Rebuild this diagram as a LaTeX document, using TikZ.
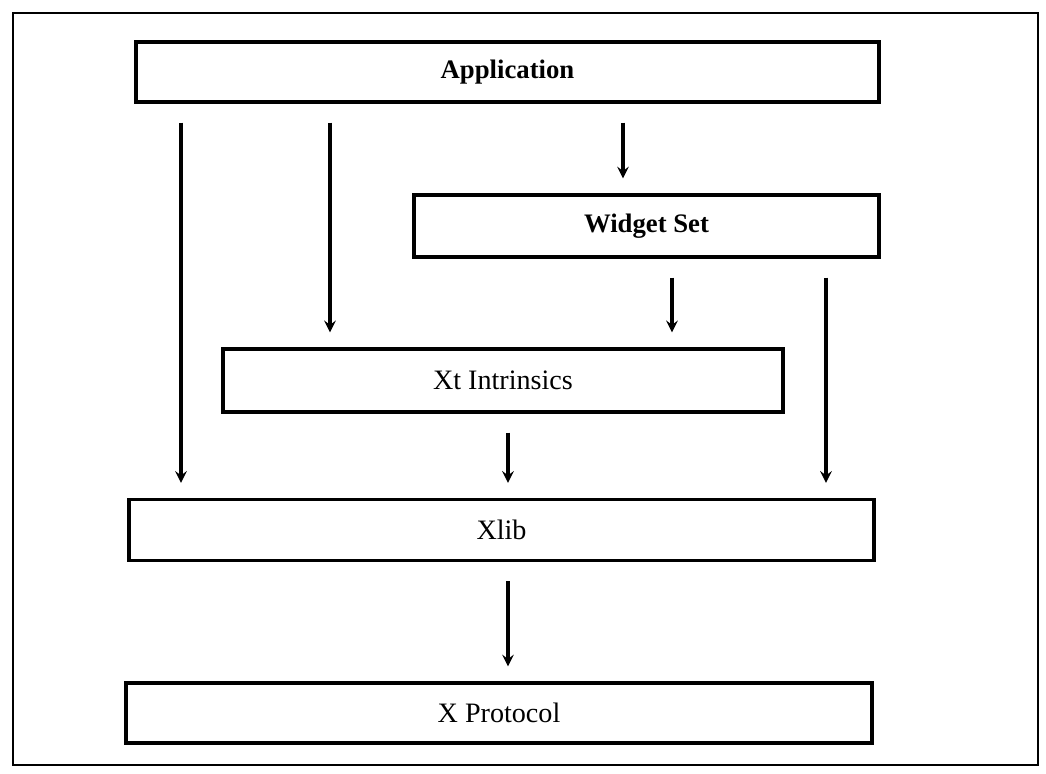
\documentclass[tikz,border=0pt]{standalone}
\usepackage{fontspec}
\setmainfont{Liberation Serif}
\tikzset{
  layer/.style={draw,line width=2.5pt,inner sep=0pt,font=\fontsize{20}{24}\selectfont},
  flow/.style={line width=2.6pt,-stealth,shorten <=0.47cm,shorten >=0.37cm},
}
\begin{document}
\begin{tikzpicture}[x=0.025cm,y=-0.025cm]
        \useasboundingbox (0,0) rectangle (1046,774);
        \draw[line width=2pt] (13,13) rectangle (1038,765);
        % the layers
        \node[layer,minimum width=18.58cm,minimum height=1.5cm] (app) at (507.5,72) {\bfseries\fontsize{19}{22}\selectfont Application};
        \node[layer,minimum width=11.63cm,minimum height=1.55cm] (wset) at (646.5,226) {\bfseries\fontsize{19}{22}\selectfont Widget Set};
        \node[layer,minimum width=14cm,minimum height=1.58cm] (xt) at (503,380.5) {Xt Intrinsics};
        \node[layer,minimum width=18.63cm,minimum height=1.53cm] (xlib) at (501.5,530) {Xlib};
        \node[layer,minimum width=18.65cm,minimum height=1.5cm] (xproto) at (499,713) {X Protocol};
        % columns of the arrows
        \coordinate (c1) at (181,0);
        \coordinate (c2) at (330,0);
        \coordinate (c3) at (623,0);
        \coordinate (c4) at (672,0);
        \coordinate (c5) at (826,0);
        \coordinate (c6) at (508,0);
        \draw[flow] (app.south -| c1) -- (xlib.north -| c1);
        \draw[flow] (app.south -| c2) -- (xt.north -| c2);
        \draw[flow] (app.south -| c3) -- (wset.north -| c3);
        \draw[flow] (wset.south -| c4) -- (xt.north -| c4);
        \draw[flow] (wset.south -| c5) -- (xlib.north -| c5);
        \draw[flow] (xt.south -| c6) -- (xlib.north -| c6);
        \draw[flow] (xlib.south -| c6) -- (xproto.north -| c6);
\end{tikzpicture}
\end{document}
